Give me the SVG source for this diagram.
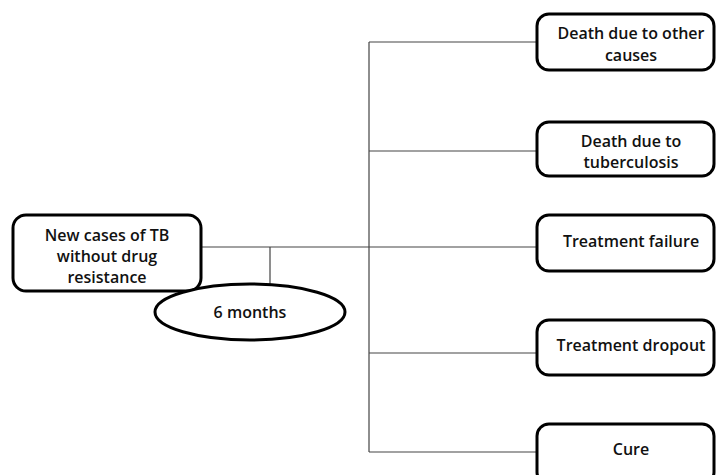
<svg xmlns="http://www.w3.org/2000/svg" width="716" height="475" viewBox="0 0 716 475">
<style>
.box{fill:#fff;stroke:#000;stroke-width:3}
.t{font-family:"Open Sans","DejaVu Sans",sans-serif;font-size:16px;font-weight:600;fill:#111;text-anchor:middle}
.c{stroke:#444;stroke-width:1.2;fill:none}
</style>
<rect width="716" height="475" fill="#fff"/>
<g id="connectors">
<path class="c" d="M201 247H369M270 247V285M369 42V452M369 42H537M369 151H537M369 247H537M369 353H537M369 452H537"/>
</g>
<g id="n-new">
<rect class="box" x="13" y="215" width="188" height="76" rx="13"/>
<text class="t" x="107" y="241">New cases of TB</text>
<text class="t" x="107" y="262">without drug</text>
<text class="t" x="107" y="283">resistance</text>
</g>
<g id="n-6m">
<ellipse class="box" cx="250" cy="312" rx="95" ry="28"/>
<text class="t" x="250" y="318">6 months</text>
</g>
<g id="n-other">
<rect class="box" x="537" y="14" width="177" height="56" rx="12"/>
<text class="t" x="631" y="39">Death due to other</text>
<text class="t" x="631" y="61">causes</text>
</g>
<g id="n-tb">
<rect class="box" x="537" y="122" width="177" height="54" rx="12"/>
<text class="t" x="631" y="147">Death due to</text>
<text class="t" x="631" y="168">tuberculosis</text>
</g>
<g id="n-fail">
<rect class="box" x="537" y="215" width="177" height="56" rx="12"/>
<text class="t" x="631" y="247">Treatment failure</text>
</g>
<g id="n-drop">
<rect class="box" x="537" y="320" width="177" height="55" rx="12"/>
<text class="t" x="631" y="351">Treatment dropout</text>
</g>
<g id="n-cure">
<rect class="box" x="537" y="424" width="177" height="60" rx="12"/>
<text class="t" x="631" y="455">Cure</text>
</g>
</svg>
